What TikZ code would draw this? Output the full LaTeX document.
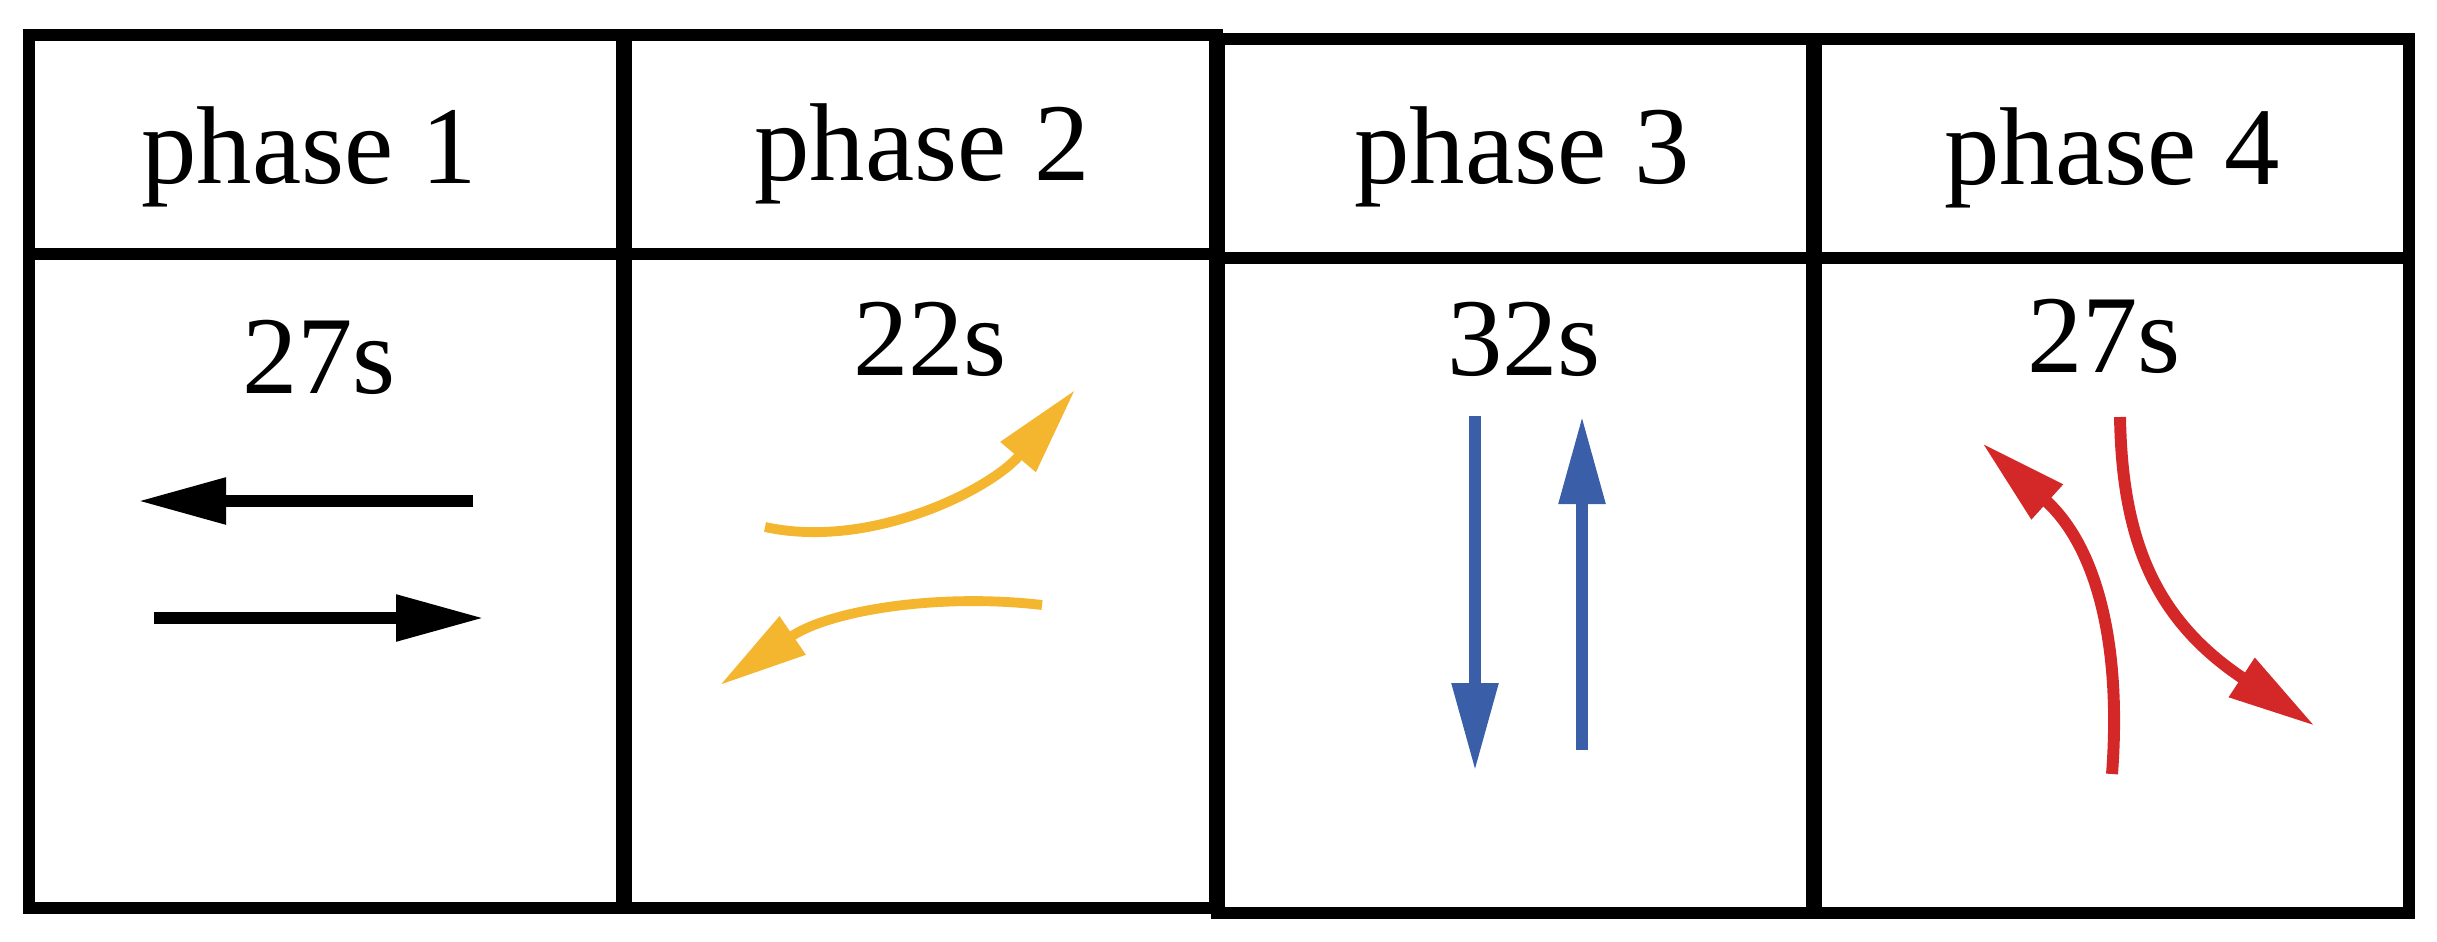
\documentclass[tikz,border=0pt]{standalone}
\usepackage{fontspec}
\setmainfont{Liberation Serif}
\usetikzlibrary{arrows.meta}
\definecolor{amber}{HTML}{F4B62E}
\definecolor{steel}{HTML}{3B5EA8}
\definecolor{crimson}{HTML}{D42828}
\tikzset{
  tablerule/.style={line width=3.4pt},
  lbl/.style={anchor=base,inner sep=0pt,font=\fontsize{31.5}{38}\selectfont},
  flow/.style={line width=3.4pt,-{Triangle[length=8.8mm,width=4.4mm]}}
}
\begin{document}
\begin{tikzpicture}
      \useasboundingbox (0,0) rectangle (24.37,-9.41);
      % table
      \draw[tablerule] (0.29,-0.35) rectangle (12.17,-9.08)
        (0.29,-2.54) -- (12.17,-2.54);
      \draw[tablerule] (12.17,-0.39) rectangle (24.09,-9.13)
        (12.17,-2.58) -- (24.09,-2.58);
      \draw[line width=4.5pt]
        (6.24,-0.35) -- (6.24,-9.08)
        (12.17,-0.35) -- (12.17,-9.13)
        (18.14,-0.39) -- (18.14,-9.13);
      % labels
      \draw
        (3.09,-1.83) node[lbl] (h1){phase 1}
        (9.22,-1.80) node[lbl] (h2){phase 2}
        (15.22,-1.83) node[lbl] (h3){phase 3}
        (21.12,-1.84) node[lbl] (h4){phase 4}
        (3.19,-3.93) node[lbl] (t1){27s}
        (9.30,-3.75) node[lbl] (t2){22s}
        (15.24,-3.75) node[lbl] (t3){32s}
        (21.04,-3.72) node[lbl] (t4){27s};
      % arrow ends
      \coordinate (1a) at (4.73,-5.01);
      \coordinate (1b) at (1.38,-5.01);
      \coordinate (1c) at (1.54,-6.18);
      \coordinate (1d) at (4.84,-6.18);
      \coordinate (2a) at (7.65,-5.27);
      \coordinate (2b) at (10.75,-3.90);
      \coordinate (2c) at (10.42,-6.05);
      \coordinate (2d) at (7.20,-6.85);
      \coordinate (3a) at (14.75,-4.16);
      \coordinate (3b) at (14.75,-7.71);
      \coordinate (3c) at (15.82,-7.50);
      \coordinate (3d) at (15.82,-4.16);
      \coordinate (4a) at (21.12,-7.74);
      \coordinate (4b) at (19.82,-4.43);
      \coordinate (4c) at (21.20,-4.17);
      \coordinate (4d) at (23.15,-7.26);
      \begin{scope}[flow]
        \draw (1a) to (1b);
        \draw (1c) to (1d);
        \draw[amber,line width=2.8pt] (2a) .. controls (8.70,-5.50) and (9.90,-4.90) .. (2b);
        \draw[amber,line width=2.8pt] (2c) .. controls (9.40,-5.93) and (8.30,-6.10) .. (2d);
        \draw[steel] (3a) to (3b);
        \draw[steel] (3c) to (3d);
        \draw[crimson] (4a) .. controls (21.22,-6.40) and (20.95,-5.45) .. (4b);
        \draw[crimson] (4c) .. controls (21.22,-5.40) and (21.55,-6.20) .. (4d);
      \end{scope}
\end{tikzpicture}
\end{document}
